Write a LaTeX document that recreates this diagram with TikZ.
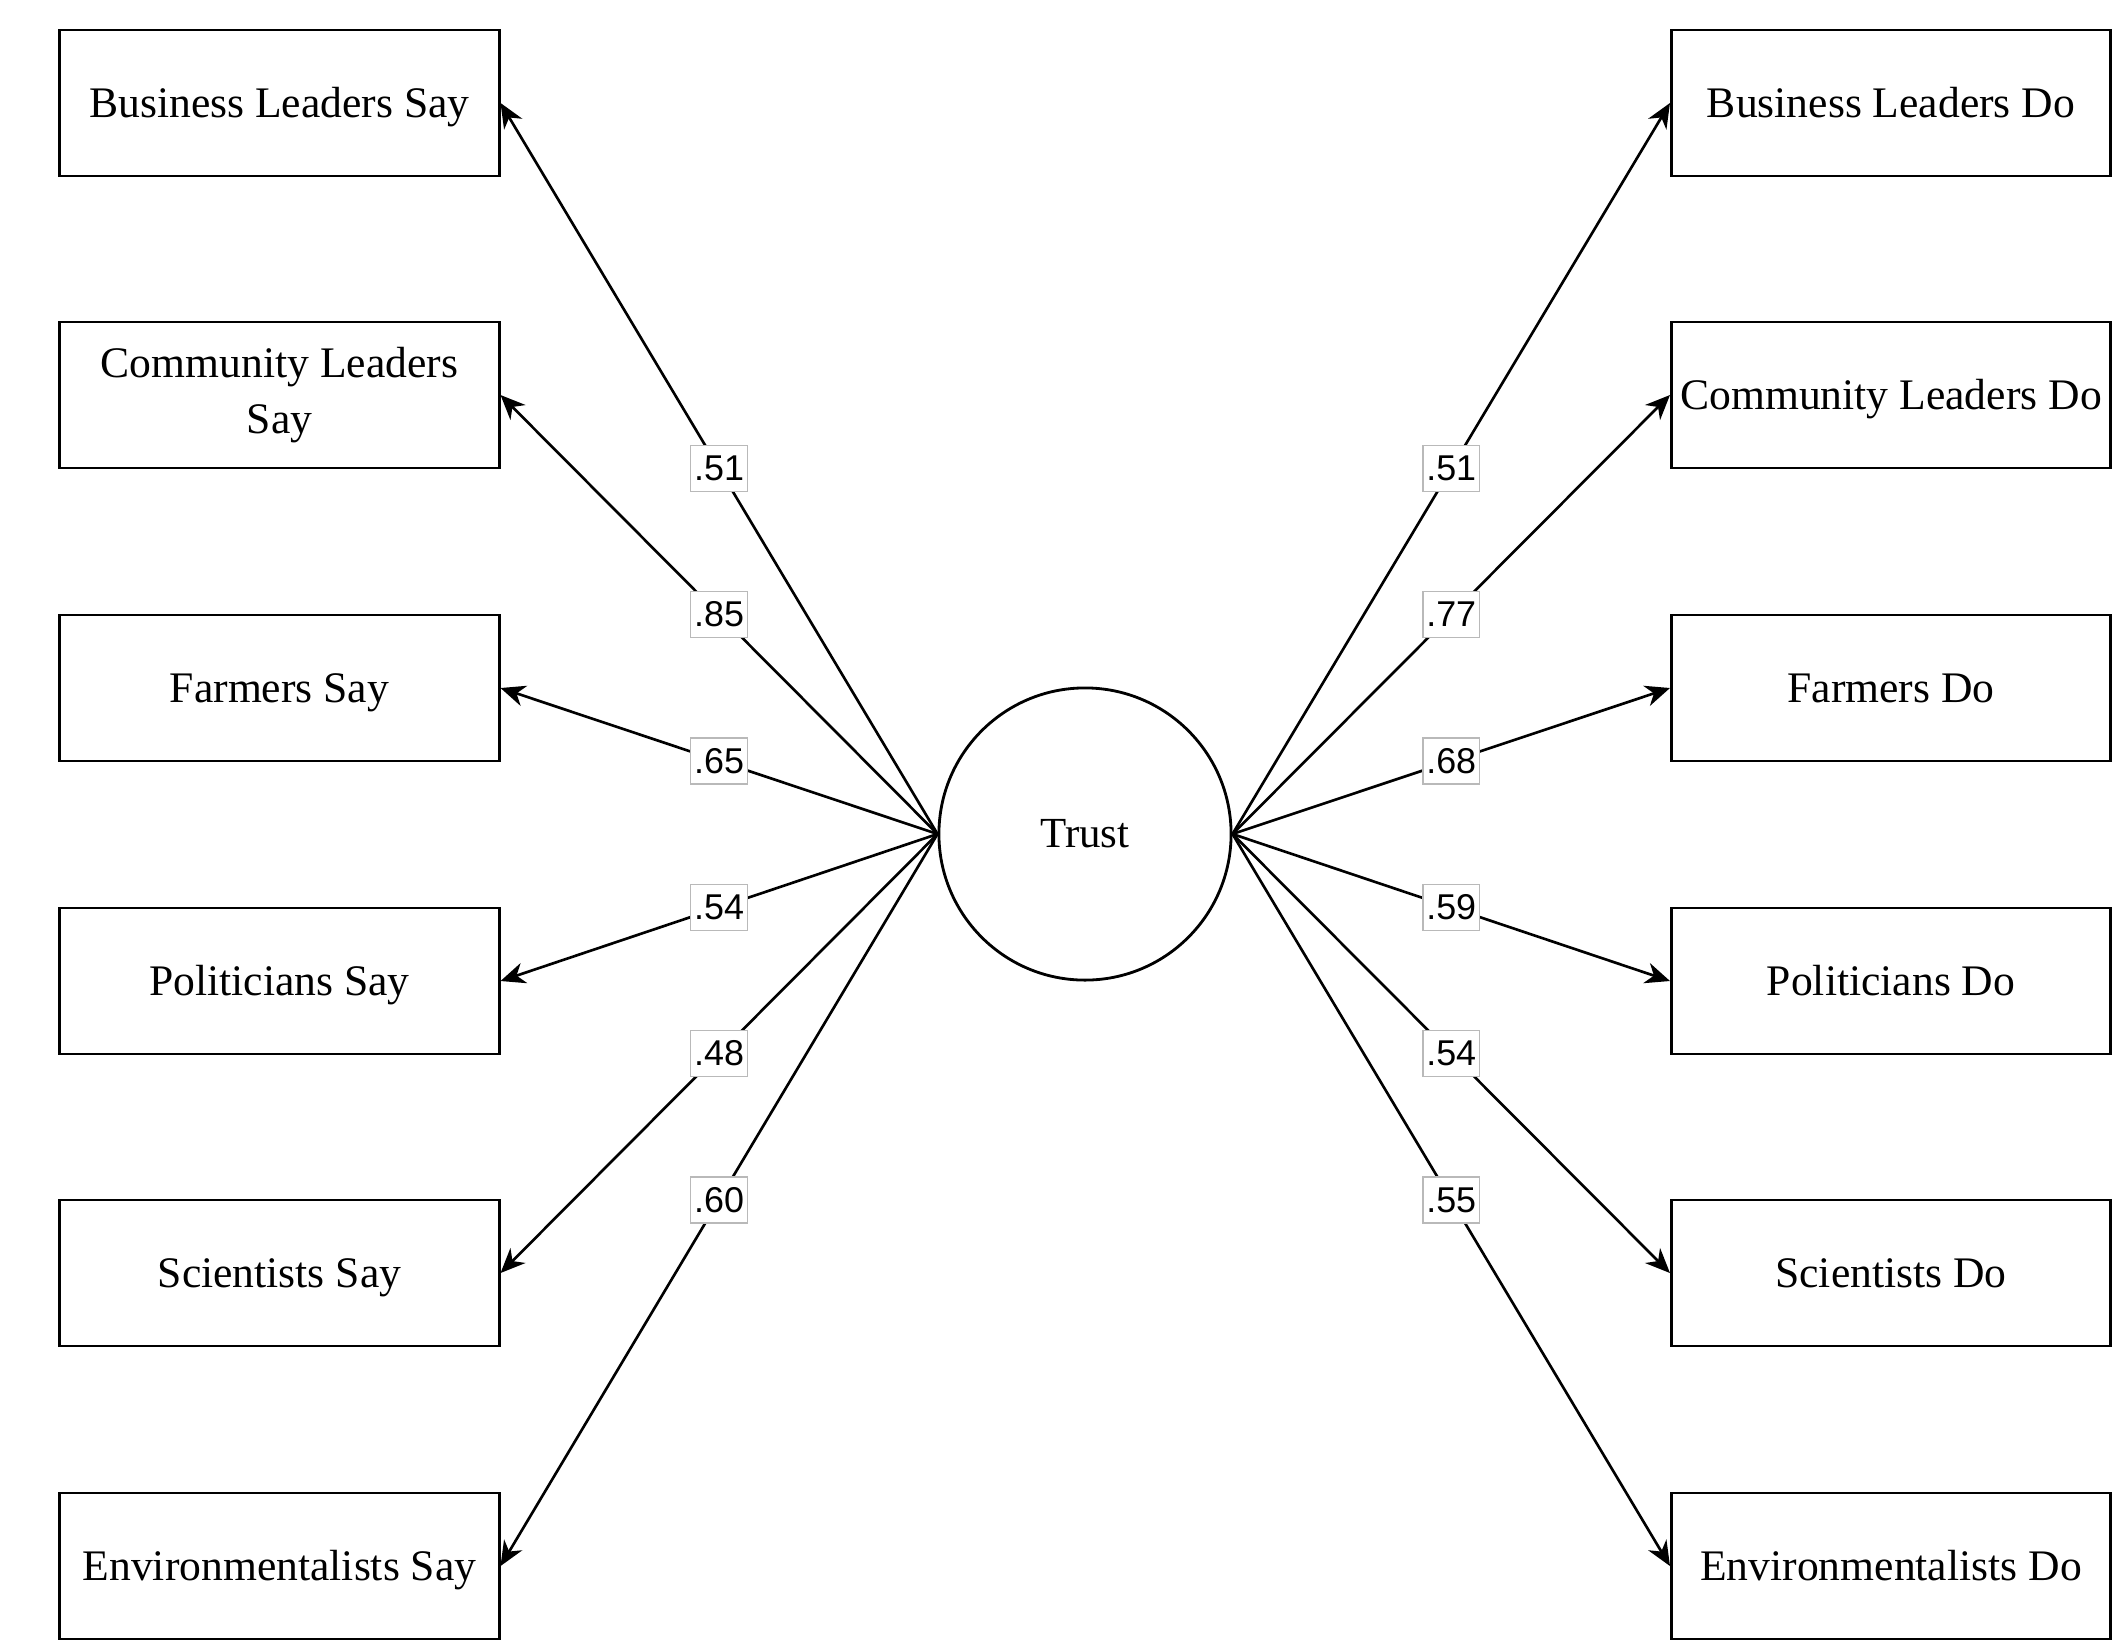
\documentclass[tikz,border=0pt]{standalone}
\usepackage{fontspec}
\setmainfont{Liberation Serif}
\newfontfamily\lblfont{Liberation Sans}
\usetikzlibrary{arrows.meta}
\definecolor{lblgray}{RGB}{185,185,185}

\begin{document}
\begin{tikzpicture}[x=0.01cm,y=-0.01cm,
    item/.style={draw,line width=0.8pt,minimum width=4.39cm,minimum height=1.46cm,
      inner sep=0pt,align=center,font=\fontsize{12.4}{15.8}\selectfont},
    oneline/.style={item,text height=10pt,text depth=1.7pt},
    latent/.style={draw,circle,line width=0.8pt,minimum size=2.92cm,inner sep=0pt,
      font=\fontsize{12.2}{15}\selectfont},
    load/.style={-{Stealth[length=7pt,width=6pt,inset=2.2pt]},line width=0.75pt},
    lbl/.style={draw=lblgray,fill=white,line width=0.4pt,inner xsep=1pt,inner ysep=0pt,
      minimum height=0.46cm,font=\lblfont\fontsize{10.2}{12}\selectfont}]
  \useasboundingbox (0,0) rectangle (2122,1639);
  % latent factor
  \node[latent] (trust) at (1085,834) {Trust};
  % say indicators
  \node[oneline] (bls) at (279.5,103) {Business Leaders Say};
  \node[item] (cls) at (279.5,395) {Community Leaders\\Say};
  \node[oneline] (fs) at (279.5,688) {Farmers Say};
  \node[oneline] (ps) at (279.5,981) {Politicians Say};
  \node[oneline] (ss) at (279.5,1273) {Scientists Say};
  \node[oneline] (es) at (279.5,1566) {Environmentalists Say};
  % do indicators
  \node[oneline] (bld) at (1891,103) {Business Leaders Do};
  \node[oneline] (cld) at (1891,395) {Community Leaders Do};
  \node[oneline] (fd) at (1891,688) {Farmers Do};
  \node[oneline] (pd) at (1891,981) {Politicians Do};
  \node[oneline] (sd) at (1891,1273) {Scientists Do};
  \node[oneline] (ed) at (1891,1566) {Environmentalists Do};
  % loadings
  \draw[load] (trust.west) -- node[lbl]{.51} (bls.east);
  \draw[load] (trust.west) -- node[lbl]{.85} (cls.east);
  \draw[load] (trust.west) -- node[lbl]{.65} (fs.east);
  \draw[load] (trust.west) -- node[lbl]{.54} (ps.east);
  \draw[load] (trust.west) -- node[lbl]{.48} (ss.east);
  \draw[load] (trust.west) -- node[lbl]{.60} (es.east);
  \draw[load] (trust.east) -- node[lbl]{.51} (bld.west);
  \draw[load] (trust.east) -- node[lbl]{.77} (cld.west);
  \draw[load] (trust.east) -- node[lbl]{.68} (fd.west);
  \draw[load] (trust.east) -- node[lbl]{.59} (pd.west);
  \draw[load] (trust.east) -- node[lbl]{.54} (sd.west);
  \draw[load] (trust.east) -- node[lbl]{.55} (ed.west);
\end{tikzpicture}
\end{document}
